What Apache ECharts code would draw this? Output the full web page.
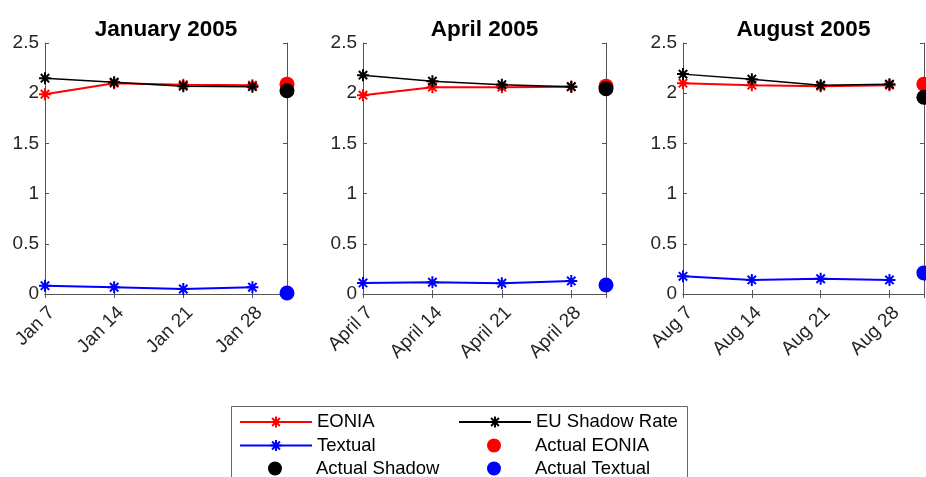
<!DOCTYPE html>
<html>
<head>
<meta charset="utf-8">
<script src="https://cdn.jsdelivr.net/npm/echarts@6/dist/echarts.min.js"></script>
<style>
  html, body { margin: 0; padding: 0; background: #fff; }
  #chart { width: 926px; height: 477px; }
</style>
</head>
<body>
<div id="chart"></div>
<script>
// panel titles and week labels
const panelTitles = ['January 2005', 'April 2005', 'August 2005'];
const janLabels = ['Jan 7', 'Jan 14', 'Jan 21', 'Jan 28'];
const aprLabels = ['April 7', 'April 14', 'April 21', 'April 28'];
const augLabels = ['Aug 7', 'Aug 14', 'Aug 21', 'Aug 28'];
const weekPos = [1, 2, 3, 4];
const actualPos = 4.5;
const yTicks = [0, 0.5, 1, 1.5, 2, 2.5];

// weekly forecasts
const eoniaJan = [1.99, 2.10, 2.085, 2.08];
const shadowJan = [2.15, 2.11, 2.07, 2.065];
const textualJan = [0.083, 0.067, 0.05, 0.067];
const eoniaApr = [1.98, 2.06, 2.06, 2.065];
const shadowApr = [2.18, 2.12, 2.085, 2.065];
const textualApr = [0.11, 0.117, 0.107, 0.13];
const eoniaAug = [2.10, 2.08, 2.07, 2.08];
const shadowAug = [2.19, 2.14, 2.08, 2.09];
const textualAug = [0.176, 0.14, 0.152, 0.14];

// actual values at month end
const actualEonia = [2.09, 2.07, 2.09];
const actualShadow = [2.025, 2.045, 1.96];
const actualTextual = [0.01, 0.09, 0.21];

// legend entries, MATLAB-style 2 columns
const legendCol1 = ['EONIA', 'Textual', 'Actual Shadow'];
const legendCol2 = ['EU Shadow Rate', 'Actual EONIA', 'Actual Textual'];
const dotNames = ['Actual EONIA', 'Actual Shadow', 'Actual Textual'];

const panels = [
  {labels: janLabels, eonia: eoniaJan, shadow: shadowJan, textual: textualJan},
  {labels: aprLabels, eonia: eoniaApr, shadow: shadowApr, textual: textualApr},
  {labels: augLabels, eonia: eoniaAug, shadow: shadowAug, textual: textualAug}
];

const grids = [
  {left: 45, top: 43, width: 242, height: 251},
  {left: 363, top: 43, width: 243, height: 251},
  {left: 683, top: 43, width: 241, height: 251}
];

const font = 'Liberation Sans, Arial, Helvetica, sans-serif';
const axisCol = '#555';
const labelCol = '#262626';
const star = 'path://M5 0 L5 10 M0 5 L10 5 M1.5 1.5 L8.5 8.5 M1.5 8.5 L8.5 1.5';

function pairs(vals) {
  return vals.map((v, i) => [weekPos[i], v]);
}

function lineSeries(name, color, width, vals, k) {
  return {
    name: name, type: 'line', xAxisIndex: 2 * k, yAxisIndex: 2 * k,
    data: pairs(vals),
    symbol: star, symbolSize: 12,
    lineStyle: {color: color, width: width},
    itemStyle: {color: color, borderColor: color, borderWidth: 2},
    animation: false
  };
}

function dotSeries(name, color, val, k) {
  return {
    name: name, type: 'scatter', xAxisIndex: 2 * k, yAxisIndex: 2 * k,
    data: [[actualPos, val]],
    symbol: 'circle', symbolSize: 15,
    itemStyle: {color: color, opacity: 1},
    animation: false
  };
}

const xAxes = [], yAxes = [], series = [], titles = [];
panels.forEach((p, k) => {
  const g = grids[k];
  titles.push({
    text: panelTitles[k], left: g.left + g.width / 2, top: 18, padding: 0, textAlign: 'center',
    textStyle: {fontFamily: font, fontSize: 22.5, fontWeight: 'bold', color: '#000'}
  });
  const xBase = {
    type: 'value', gridIndex: k, min: 1, max: actualPos, interval: 1,
    splitLine: {show: false},
    axisLine: {show: true, lineStyle: {color: axisCol, width: 1}},
    axisTick: {show: true, inside: true, length: 4, lineStyle: {color: axisCol}}
  };
  xAxes.push(Object.assign({}, xBase, {
    position: 'bottom',
    axisLabel: {
      rotate: 45, margin: 9, align: 'right', verticalAlign: 'top',
      fontFamily: font, fontSize: 19, color: labelCol,
      showMinLabel: true, showMaxLabel: true,
      formatter: v => (Number.isInteger(v) ? p.labels[v - 1] : '')
    }
  }));
  xAxes.push(Object.assign({}, xBase, {position: 'top', axisLabel: {show: false}}));
  const yBase = {
    type: 'value', gridIndex: k, min: 0, max: 2.5, interval: 0.5,
    splitLine: {show: false},
    axisLine: {show: true, lineStyle: {color: axisCol, width: 1}},
    axisTick: {show: true, inside: true, length: 4, lineStyle: {color: axisCol}}
  };
  yAxes.push(Object.assign({}, yBase, {
    position: 'left',
    axisLabel: {
      margin: 6, fontFamily: font, fontSize: 19, color: labelCol,
      formatter: v => String(yTicks[Math.round(v / 0.5)])
    }
  }));
  yAxes.push(Object.assign({}, yBase, {position: 'right', axisLabel: {show: false}}));

  series.push(lineSeries('EONIA', '#ff0000', 2, p.eonia, k));
  series.push(lineSeries('EU Shadow Rate', '#000000', 1.5, p.shadow, k));
  series.push(lineSeries('Textual', '#0000ff', 2, p.textual, k));
  series.push(dotSeries('Actual EONIA', '#ff0000', actualEonia[k], k));
  series.push(dotSeries('Actual Shadow', '#000000', actualShadow[k], k));
  series.push(dotSeries('Actual Textual', '#0000ff', actualTextual[k], k));
});

// one legend per entry so the box layout matches; dot icons sit mid-way
const rowCenters = [422.5, 446, 469];
const legends = [];
[[legendCol1, 239], [legendCol2, 458]].forEach(([names, left]) => {
  names.forEach((name, r) => {
    const isDot = dotNames.indexOf(name) >= 0;
    legends.push({
      left: isDot ? left + 29 : left, top: rowCenters[r] - 10, padding: 0,
      itemWidth: 72, itemHeight: 14, selectedMode: false,
      textStyle: {fontFamily: font, fontSize: 18.5, color: '#000'},
      data: [name]
    });
  });
});

const chart = echarts.init(document.getElementById('chart'), null, {renderer: 'canvas'});
chart.setOption({
  backgroundColor: '#fff',
  animation: false,
  title: titles,
  grid: grids,
  xAxis: xAxes,
  yAxis: yAxes,
  legend: legends,
  graphic: [{
    type: 'rect', z: -1,
    shape: {x: 231.5, y: 406.5, width: 456, height: 90},
    style: {fill: '#fff', stroke: '#666', lineWidth: 1}
  }],
  series: series
});
</script>
</body>
</html>
